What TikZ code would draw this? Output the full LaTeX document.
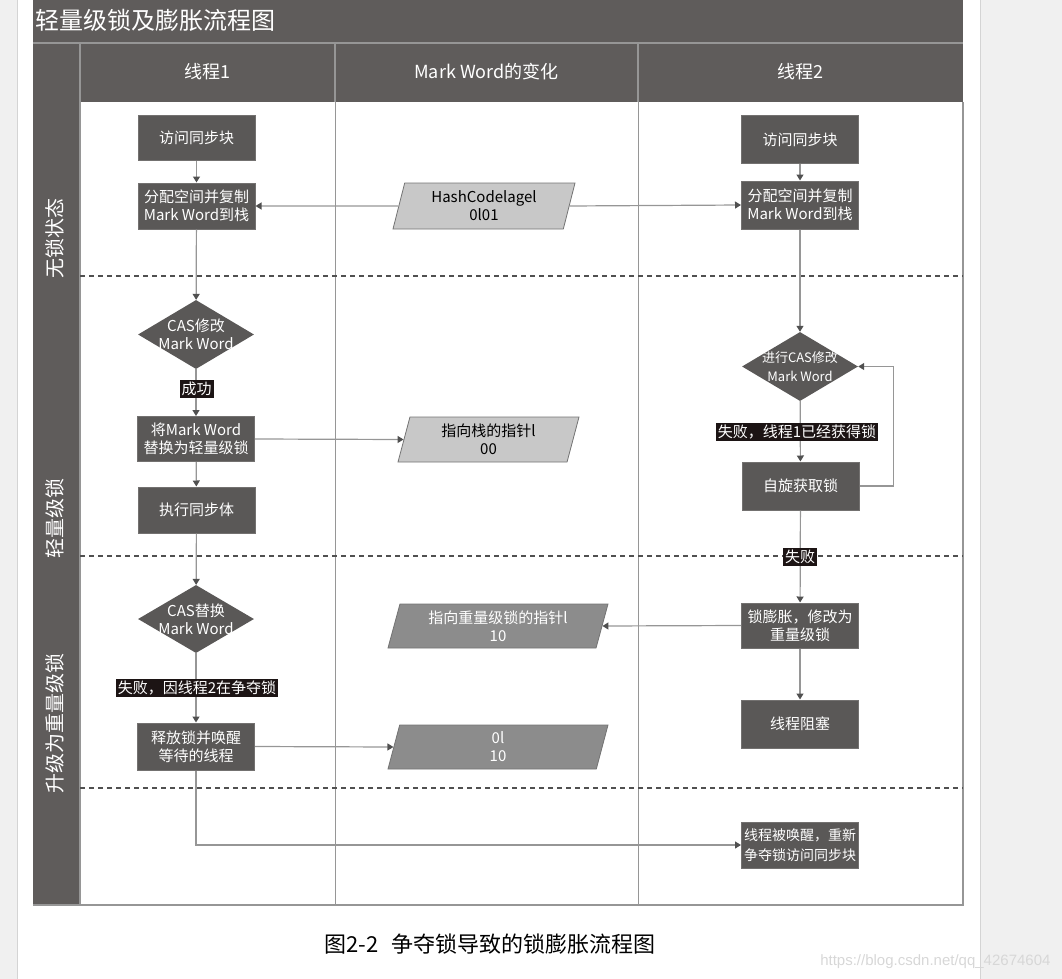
\documentclass[tikz,border=0pt]{standalone}
\usepackage{fontspec}
\setmainfont{Noto Sans CJK SC}
\newfontfamily\urlfont{Liberation Sans}
\usepackage{tikz}
\usetikzlibrary{shapes.geometric, arrows.meta, positioning, calc}
\definecolor{mydark}{RGB}{90,88,87}
\definecolor{myhead}{RGB}{95,92,91}
\definecolor{myrule}{RGB}{150,150,150}
\definecolor{myline}{RGB}{150,150,150}
\definecolor{mytip}{RGB}{80,80,80}
\definecolor{mylight}{RGB}{200,200,200}
\definecolor{mymid}{RGB}{140,140,140}
\definecolor{mytag}{RGB}{28,20,20}
\definecolor{mypage}{RGB}{240,240,240}
\definecolor{myedge}{RGB}{212,212,212}
\definecolor{mywater}{RGB}{215,215,215}
\newcommand{\boxfont}{\fontsize{15}{18}\selectfont}
\newcommand{\smallboxfont}{\fontsize{14}{20}\selectfont}
\newcommand{\headfont}{\fontsize{18}{20}\selectfont}
\newcommand{\titlefont}{\fontsize{24}{26}\selectfont}
\newcommand{\stagefont}{\fontsize{20}{22}\selectfont}
\newcommand{\capfont}{\fontsize{22}{24}\selectfont}
\tikzset{
  procbox/.style={rectangle, fill=mydark, draw=mydark!85!white,
    line width=1pt, text=white, minimum width=117pt, minimum height=46pt,
    inner sep=1pt, align=center, font=\boxfont},
  decision/.style={diamond, fill=mydark, minimum width=116pt,
    minimum height=69pt, inner sep=0pt},
  dtext/.style={text=white, align=center, font=\boxfont, inner sep=0pt},
  lightdata/.style={trapezium, trapezium left angle=70,
    trapezium right angle=110, trapezium stretches body, fill=mylight,
    draw=mytip!80!white, line width=0.8pt, minimum height=46pt,
    align=center, font=\boxfont, inner sep=1pt},
  darkdata/.style={lightdata, fill=mymid, text=white},
  flowtag/.style={fill=mytag, text=white, inner sep=2pt, font=\boxfont},
  headtext/.style={text=white, font=\headfont},
  stagetext/.style={text=white, font=\stagefont, rotate=90, anchor=west,
    inner sep=0pt},
  arrow/.style={-{Triangle[length=6pt, width=7pt, color=mytip]},
    line width=1.2pt, color=myline},
  stage/.style={dash pattern=on 5pt off 4pt, line width=2pt, color=mytip},
  lane/.style={line width=1pt, color=myrule}
}
\begin{document}
\begin{tikzpicture}[x=1pt, y=-1pt]
  \useasboundingbox (0,0) rectangle (1062,979);
  % page margins
  \fill[mypage] (0,0) rectangle (17,979);
  \fill[mypage] (980,0) rectangle (1062,979);
  \draw[myedge, line width=1pt] (17,0) -- (17,979);
  \draw[myedge, line width=1pt] (980,0) -- (980,979);

  % title bar, header row and stage column
  \fill[myhead] (33,0) rectangle (963,102);
  \fill[myhead] (33,102) rectangle (80,905);
  \draw[myline, line width=1.5pt] (33,43) -- (963,43);
  \draw[myline, line width=1.5pt] (80,43) -- (80,905);
  \draw[myline, line width=1.5pt] (335,43) -- (335,102);
  \draw[myline, line width=1.5pt] (638,43) -- (638,102);
  \node[anchor=west, text=white, font=\titlefont, inner sep=0pt] (title) at (35,20) {轻量级锁及膨胀流程图};
  \node[headtext] (head1) at (207.5,72) {线程1};
  \node[headtext] (headmw) at (486.5,72) {Mark Word的变化};
  \node[headtext] (head2) at (800.5,72) {线程2};

  % lanes
  \draw[lane] (335,102) -- (335,905);
  \draw[lane] (638,102) -- (638,905);
  \draw[myrule, line width=1.5pt] (33,905) -- (963,905) -- (963,102);
  \foreach \y in {276,556,788} {
    \draw[stage] (80,\y) -- (963,\y);
  }
  \node[stagetext] (st1) at (55,279) {无锁状态};
  \node[stagetext] (st2) at (55,559) {轻量级锁};
  \node[stagetext] (st3) at (55,794) {升级为重量级锁};

  % Thread 1
  \node[procbox, minimum height=44pt] (t1a) at (196.5,138) {访问同步块};
  \node[procbox] (t1b) at (196.5,206) {分配空间并复制\\Mark Word到栈};
  \node[decision, label={[dtext]center:{CAS修改\\Mark Word}}] (t1c) at (196,334.5) {};
  \node[procbox, minimum height=45pt] (t1d) at (196,439) {将Mark Word\\替换为轻量级锁};
  \node[procbox] (t1e) at (196.5,510) {执行同步体};
  \node[decision, minimum height=68pt, label={[dtext]center:{CAS替换\\Mark Word}}] (t1f) at (196,619) {};
  \node[procbox, minimum height=47pt] (t1g) at (196,746.5) {释放锁并唤醒\\等待的线程};

  % Mark Word
  \node[lightdata, minimum width=182pt] (mw1) at (484,206) {HashCodelagel\\0l01};
  \node[lightdata, minimum width=181pt, minimum height=45pt] (mw2) at (488.5,439.5) {指向栈的指针l\\00};
  \node[darkdata, minimum width=220pt, minimum height=44pt] (mw3) at (498,626) {指向重量级锁的指针l\\10};
  \node[darkdata, minimum width=220pt, minimum height=44pt] (mw4) at (498,747) {0l\\10};

  % Thread 2
  \node[procbox, minimum height=47pt] (t2a) at (800,139.5) {访问同步块};
  \node[procbox, minimum height=48pt] (t2b) at (800,205) {分配空间并复制\\Mark Word到栈};
  \node[decision, label={[dtext, font=\fontsize{13}{19}\selectfont]center:{进行CAS修改\\Mark Word}}] (t2c) at (800,366.5) {};
  \node[procbox, minimum height=48pt] (t2d) at (800.5,486) {自旋获取锁};
  \node[procbox, minimum height=45pt] (t2e) at (800,625.5) {锁膨胀，修改为\\重量级锁};
  \node[procbox, minimum height=48pt] (t2f) at (800,724) {线程阻塞};
  \node[procbox, font=\smallboxfont] (t2g) at (800,845) {线程被唤醒，重新\\争夺锁访问同步块};

  % connectors
  \draw[arrow] (t1a) -- (t1b);
  \draw[arrow] (t1b) -- (t1c);
  \draw[arrow] (t1c) -- (t1d);
  \draw[arrow] (t1d) -- (t1e);
  \draw[arrow] (t1e) -- (t1f);
  \draw[arrow] (t1f) -- (t1g);
  \draw[arrow] (t1g.south) |- (t2g.west);
  \draw[arrow] (mw1.west) -- (t1b.east);
  \draw[arrow] (mw1.east) -- (t2b.west);
  \draw[arrow] (t1d.east) -- (mw2.west);
  \draw[arrow] (t1g.east) -- (mw4.west);
  \draw[arrow] (t2a) -- (t2b);
  \draw[arrow] (t2b) -- (t2c);
  \draw[arrow] (t2c) -- (t2d);
  \draw[arrow] (t2d.east) -- ++(34,0) |- (t2c.east);
  \draw[arrow] (t2d) -- (t2e);
  \draw[arrow] (t2e) -- (t2f);
  \draw[arrow] (t2e.west) -- (mw3.east);

  % tags on connectors
  \node[flowtag] (ok1) at (196.5,389) {成功};
  \node[flowtag] (fail1) at (197,688) {失败，因线程2在争夺锁};
  \node[flowtag] (fail2) at (797,432) {失败，线程1已经获得锁};
  \node[flowtag] (fail3) at (800,557) {失败};

  % caption
  \node[font=\capfont] (caption) at (490,944) {图2-2\hspace{0.6em}争夺锁导致的锁膨胀流程图};
  \node[anchor=east, text=mywater, font=\urlfont\fontsize{15}{15}\selectfont] (water) at (1054,962) {https://blog.csdn.net/qq\_42674604};
\end{tikzpicture}
\end{document}
